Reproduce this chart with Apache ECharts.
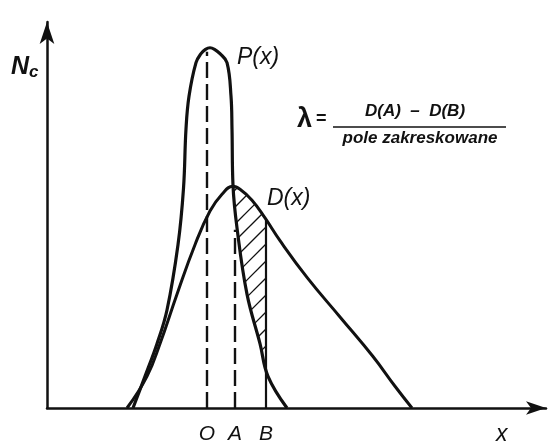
<!DOCTYPE html>
<html>
<head>
<meta charset="utf-8">
<script src="https://cdn.jsdelivr.net/npm/echarts@6/dist/echarts.min.js"></script>
<style>
  html, body { margin: 0; padding: 0; background: #ffffff; }
  #chart { width: 560px; height: 445px; }
</style>
</head>
<body>
<div id="chart"></div>
<script>
// Outline of P(x): narrow, tall distribution (x, Nc)
const pCurve = [
  [17.2, 0], [19.6, 8], [22.0, 16.25], [24.0, 24.75], [26.2, 41.25],
  [27.3, 55.5], [27.8, 70.5], [28.4, 78.75], [29.8, 87.25], [30.8, 89.5],
  [31.7, 90.6], [32.6, 91], [33.5, 90.6], [34.6, 89.5], [36.0, 87.25],
  [36.8, 78.75], [37.0, 70.5], [37.2, 56.25], [38.0, 45.5], [40.0, 28.75],
  [42.6, 16.25], [44.2, 8], [48.0, 0]
];

// Outline of D(x): broad, right-skewed distribution (x, Nc)
const dCurve = [
  [16.0, 0], [20.0, 8], [22.6, 16.25], [26.0, 28.75], [29.6, 41.25],
  [32.6, 49.75], [35.0, 54], [37.2, 56], [38.6, 55.25], [41.0, 52.5],
  [43.6, 48], [46.6, 42.25], [52.0, 33], [58.6, 23], [65.2, 13],
  [69.6, 5.5], [73.0, 0]
];

// Marked positions on the x axis
const markNames = ['O', 'A', 'B'];
const markX = [32.0, 37.6, 43.8];
// Upper ends of the dashed guides through O and A
const oTop = 90;
const aTop = 45;

const INK = '#111111';
const FONT = 'Liberation Sans';

// Part of a curve from its peak to the right foot
function rightBranch(curve) {
  let k = 0;
  curve.forEach((p, i) => { if (p[1] > curve[k][1]) k = i; });
  return curve.slice(k);
}
// Linear read-out of a branch at x
function yAt(branch, x) {
  for (let i = 0; i + 1 < branch.length; i++) {
    const a = branch[i], b = branch[i + 1];
    if (x >= a[0] && x <= b[0]) {
      const t = (x - a[0]) / (b[0] - a[0] || 1);
      return a[1] + t * (b[1] - a[1]);
    }
  }
  return x < branch[0][0] ? branch[0][1] : branch[branch.length - 1][1];
}

const pRight = rightBranch(pCurve);
const dRight = rightBranch(dCurve);
const bX = markX[2];

// Where P(x) falls below D(x) on the right of the D peak
let xCross = dRight[0][0];
while (xCross < bX && yAt(pRight, xCross) > yAt(dRight, xCross)) xCross += 0.02;

// Hatched region: between D(x) above and P(x) below, from the crossing to B
const hatchPoly = [];
hatchPoly.push([xCross, yAt(dRight, xCross)]);
dRight.forEach(p => { if (p[0] > xCross && p[0] < bX) hatchPoly.push(p); });
hatchPoly.push([bX, yAt(dRight, bX)]);
hatchPoly.push([bX, yAt(pRight, bX)]);
pRight.slice().reverse().forEach(p => { if (p[0] > xCross && p[0] < bX) hatchPoly.push(p); });

const bTop = yAt(dRight, bX);

function guide(x, top, dashed) {
  return {
    type: 'line',
    data: [[x, 0], [x, top]],
    symbol: 'none',
    silent: true,
    lineStyle: { color: INK, width: dashed ? 2.4 : 2.2, type: dashed ? [16, 6] : 'solid' },
    z: 3
  };
}

const chart = echarts.init(document.getElementById('chart'), null, { renderer: 'canvas' });

chart.setOption({
  animation: false,
  backgroundColor: '#ffffff',
  grid: { left: 47, top: 22, width: 499, height: 390 },
  xAxis: {
    type: 'value',
    min: 0,
    max: 99.8,
    splitLine: { show: false },
    axisTick: { show: false },
    axisLine: {
      lineStyle: { color: INK, width: 2.5 },
      symbol: ['none', 'arrow'],
      symbolSize: [10, 20]
    },
    axisLabel: {
      customValues: markX,
      formatter: v => markNames[markX.indexOf(v)] || '',
      color: INK,
      fontFamily: FONT,
      fontStyle: 'italic',
      fontSize: 21,
      margin: 16,
      showMinLabel: true,
      showMaxLabel: true
    }
  },
  yAxis: {
    type: 'value',
    min: 0,
    max: 97.5,
    splitLine: { show: false },
    axisTick: { show: false },
    axisLabel: { show: false },
    axisLine: {
      show: true,
      lineStyle: { color: INK, width: 2.5 },
      symbol: ['none', 'arrow'],
      symbolSize: [11, 22]
    }
  },
  series: [
    {
      type: 'line',
      name: 'P(x)',
      data: pCurve,
      smooth: 0.4,
      symbol: 'none',
      lineStyle: { color: INK, width: 3.2 },
      z: 4
    },
    {
      type: 'line',
      name: 'D(x)',
      data: dCurve,
      smooth: 0.45,
      symbol: 'none',
      lineStyle: { color: INK, width: 3 },
      z: 4
    },
    guide(markX[0], oTop, true),
    guide(markX[1], aTop, true),
    guide(markX[2], bTop, false),
    {
      type: 'custom',
      coordinateSystem: 'cartesian2d',
      data: [[0, 0]],
      silent: true,
      clip: false,
      z: 2,
      renderItem: function (params, api) {
        const poly = hatchPoly.map(p => api.coord(p));
        let lo = Infinity, hi = -Infinity;
        poly.forEach(p => { const s = p[0] + p[1]; lo = Math.min(lo, s); hi = Math.max(hi, s); });
        const step = 17;
        const children = [];
        for (let s = Math.ceil(lo / step) * step; s < hi; s += step) {
          const hits = [];
          for (let i = 0; i < poly.length; i++) {
            const a = poly[i], b = poly[(i + 1) % poly.length];
            const fa = a[0] + a[1] - s, fb = b[0] + b[1] - s;
            if ((fa < 0) !== (fb < 0)) {
              const t = fa / (fa - fb);
              hits.push([a[0] + t * (b[0] - a[0]), a[1] + t * (b[1] - a[1])]);
            }
          }
          hits.sort((u, v) => u[0] - v[0]);
          for (let k = 0; k + 1 < hits.length; k += 2) {
            children.push({
              type: 'line',
              shape: { x1: hits[k][0], y1: hits[k][1], x2: hits[k + 1][0], y2: hits[k + 1][1] },
              style: { stroke: INK, lineWidth: 1.3 }
            });
          }
        }
        return { type: 'group', children: children };
      }
    }
  ],
  graphic: [
    {
      type: 'text', left: 11, top: 55,
      style: {
        text: '{n|N}{c|c}',
        rich: {
          n: { fontFamily: FONT, fontStyle: 'italic', fontSize: 25, fill: INK, fontWeight: 'bold' },
          c: { fontFamily: FONT, fontStyle: 'italic', fontSize: 17, fill: INK, padding: [10, 0, 0, 0], fontWeight: 'bold' }
        }
      }
    },
    {
      type: 'text', left: 237, top: 46,
      style: { text: 'P(x)', fontFamily: FONT, fontStyle: 'italic', fontSize: 23, fill: INK }
    },
    {
      type: 'text', left: 267, top: 187,
      style: { text: 'D(x)', fontFamily: FONT, fontStyle: 'italic', fontSize: 23, fill: INK }
    },
    {
      type: 'text', left: 496, top: 423,
      style: { text: 'x', fontFamily: FONT, fontStyle: 'italic', fontSize: 23, fill: INK }
    },
    {
      type: 'text', left: 297, top: 106,
      style: { text: 'λ', fontFamily: FONT, fontSize: 27, fill: INK, fontWeight: 'bold' }
    },
    {
      type: 'text', left: 316, top: 110,
      style: { text: '=', fontFamily: FONT, fontSize: 18, fill: INK, fontWeight: 'bold' }
    },
    {
      type: 'text', x: 415, y: 111,
      style: {
        text: 'D(A)  –  D(B)', fontFamily: FONT, fontStyle: 'italic', fontWeight: 'bold', fontSize: 17,
        fill: INK, align: 'center', verticalAlign: 'middle'
      }
    },
    {
      type: 'line',
      shape: { x1: 333, y1: 127, x2: 506, y2: 127 },
      style: { stroke: INK, lineWidth: 1.6 }
    },
    {
      type: 'text', x: 420, y: 138,
      style: {
        text: 'pole zakreskowane', fontFamily: FONT, fontStyle: 'italic', fontWeight: 'bold',
        fontSize: 17, fill: INK, align: 'center', verticalAlign: 'middle'
      }
    }
  ]
});
</script>
</body>
</html>
